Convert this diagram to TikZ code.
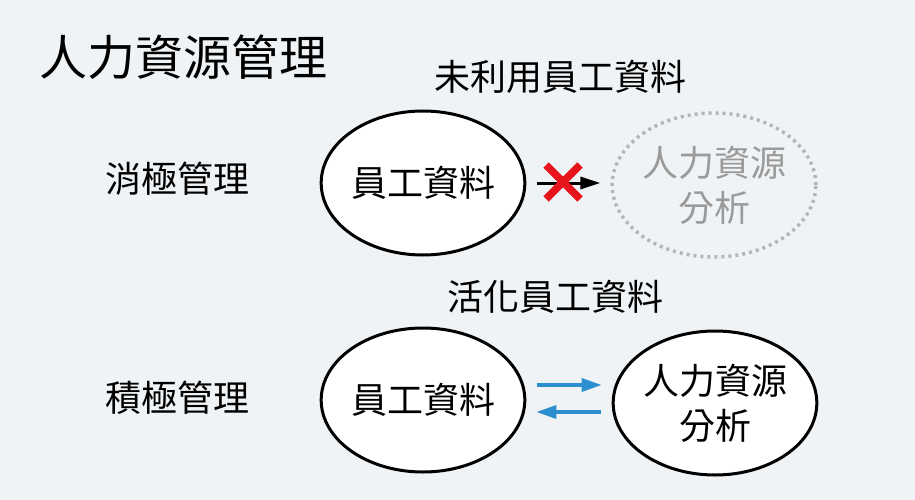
\documentclass[tikz,border=0pt]{standalone}
\usepackage{fontspec}
\setmainfont{Noto Sans CJK TC}
\usetikzlibrary{shapes.geometric,arrows.meta}
\definecolor{bgcol}{HTML}{F0F3F5}
\definecolor{fadecol}{HTML}{B5B5B5}
\definecolor{fadetext}{HTML}{9A9A9A}
\definecolor{flowblue}{HTML}{2B8FCF}
\definecolor{crossred}{HTML}{E8141B}
\tikzset{
  blob/.style={ellipse, draw=black, line width=3pt, fill=white, minimum width=200pt, minimum height=144pt, inner sep=0pt, font=\fontsize{36}{45}\selectfont, align=center},
  fadeblob/.style={blob, draw=fadecol, line width=3.5pt, dash pattern=on 3pt off 4pt, fill=none, text=fadetext},
  label/.style={font=\fontsize{36}{45}\selectfont},
  blackarrow/.style={line width=3pt, -{Triangle[length=20pt, width=12pt]}, shorten <=11pt, shorten >=10pt},
  bluearrow/.style={blackarrow, line width=3.5pt, draw=flowblue, -{Triangle[length=20pt, width=13pt]}},
}
\begin{document}
\begin{tikzpicture}[x=1pt, y=-1pt]
  \fill[bgcol] (0,0) rectangle (915,500);
  \useasboundingbox (0,0) rectangle (915,500);
  \node[anchor=west, font=\fontsize{48}{56}\selectfont] (title) at (36,57) {人力資源管理};
  % passive
  \node[label] (unused) at (560,77) {未利用員工資料};
  \node[label] (passive) at (177,179) {消極管理};
  \node[blob] (data1) at (423,183) {員工資料};
  \node[fadeblob] (analysis1) at (714,185) {人力資源\\分析};
  \draw[blackarrow] (data1.east) -- (data1.east -| analysis1.west);
  \coordinate (cross) at (563,182);
  \draw[crossred, line width=7.5pt] ([shift={(-17,-17)}]cross) -- ([shift={(17,17)}]cross);
  \draw[crossred, line width=7.5pt] ([shift={(-17,17)}]cross) -- ([shift={(17,-17)}]cross);
  % active
  \node[label] (activate) at (555,297) {活化員工資料};
  \node[label] (active) at (177,398) {積極管理};
  \node[blob] (data2) at (423,400) {員工資料};
  \node[blob] (analysis2) at (715,403) {人力資源\\分析};
  \draw[bluearrow] ([yshift=15pt]data2.east) -- ([yshift=15pt]data2.east -| analysis2.west);
  \draw[bluearrow] ([yshift=-12pt]data2.east -| analysis2.west) -- ([yshift=-12pt]data2.east);
\end{tikzpicture}
\end{document}
